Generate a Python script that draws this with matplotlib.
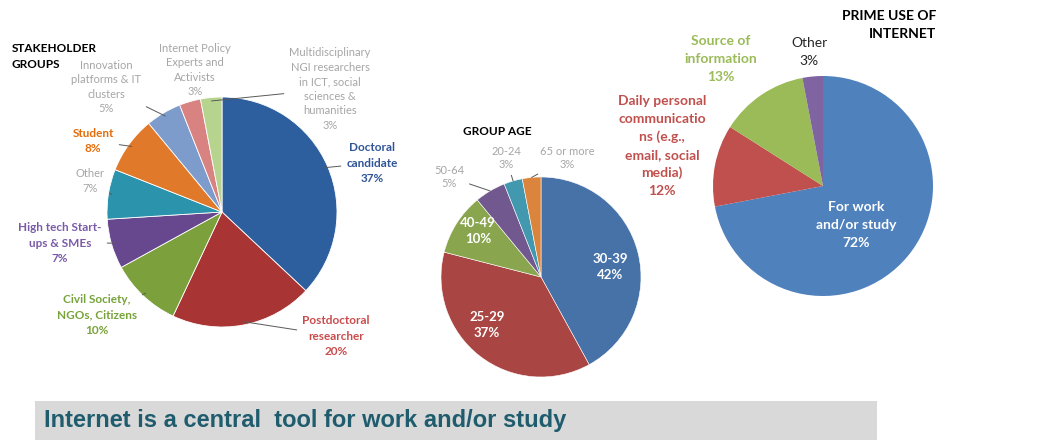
"""Three survey pie charts with a banner caption."""
import matplotlib
matplotlib.use("Agg")
import matplotlib.pyplot as plt
import numpy as np
from matplotlib.patches import Rectangle

W, H = 1051, 448

# --- data -------------------------------------------------------------
stake_labels = [
    "Doctoral\ncandidate",
    "Postdoctoral\nresearcher",
    "Civil Society,\nNGOs, Citizens",
    "High tech Start-\nups & SMEs",
    "Other",
    "Student",
    "Innovation\nplatforms & IT\nclusters",
    "Internet Policy\nExperts and\nActivists",
    "Multidisciplinary\nNGI researchers\nin ICT, social\nsciences &\nhumanities",
]
stake_values = [37, 20, 10, 7, 7, 8, 5, 3, 3]

age_labels = ["30-39", "25-29", "40-49", "50-64", "20-24", "65 or more"]
age_values = [42, 37, 10, 5, 3, 3]

use_labels = [
    "For work\nand/or study",
    "Daily personal\ncommunicatio\nns (e.g.,\nemail, social\nmedia)",
    "Source of\ninformation",
    "Other",
]
use_values = [72, 12, 13, 3]

banner_text = "Internet is a central  tool for work and/or study"

# --- styles -----------------------------------------------------------
stake_colors = ["#2D5F9F", "#A83434", "#7BA03C", "#67488F", "#2B93AC",
                "#E07A2A", "#7D9CCB", "#D98282", "#B7D48E"]
stake_text = ["#2F5597", "#C94C4C", "#77A33A", "#7A5BA8", "#A6A6A6",
              "#E46C0A", "#A6A6A6", "#A6A6A6", "#A6A6A6"]
stake_bold = [True, True, True, True, False, True, False, False, False]
# label centre (pixel coords) and whether a leader line is drawn
stake_pos = [(372, 163), (336, 336), (97, 315), (60, 243), (90, 181),
             (93, 141), (106, 87), (195, 70), (330, 89)]
stake_line = [True, True, True, True, True, True, True, False, True]

age_colors = ["#4672A8", "#A94543", "#89A54E", "#71588F", "#4198AF", "#DB843D"]
age_pos = [(610, 267), (487, 325), (478, 231), (449, 177), (506, 158), (567, 158)]
age_inside = [True, True, True, False, False, False]

use_colors = ["#4F81BD", "#C0504D", "#9BBB59", "#8064A2"]
use_text = ["white", "#C0504D", "#9BBB59", "#262626"]
use_bold = [True, True, True, False]
use_pos = [(856, 225), (662, 146), (721, 59), (809, 52)]

FONT = ["Lato", "DejaVu Sans"]
plt.rcParams["font.family"] = FONT


def px(x, y):
    return x, H - y


def mid_angles(values):
    v = np.asarray(values, dtype=float)
    frac = v / v.sum()
    cum = np.concatenate([[0], np.cumsum(frac)])
    return np.deg2rad(90 - 360 * (cum[:-1] + cum[1:]) / 2)


def draw_pie(ax, values, colors, center, radius, lw=0.6):
    c = px(*center)
    ax.pie(values, colors=colors, startangle=90, counterclock=False,
           center=c, radius=radius, frame=True,
           wedgeprops=dict(edgecolor="white", linewidth=lw))
    return c


def anchor(c, radius, ang, k=1.0):
    return c[0] + k * radius * np.cos(ang), c[1] + k * radius * np.sin(ang)


fig = plt.figure(figsize=(W / 100, H / 100), dpi=100)
ax = fig.add_axes([0, 0, 1, 1])

# --- stakeholder groups ----------------------------------------------
c1, r1 = draw_pie(ax, stake_values, stake_colors, (222, 212), 115), 115
ax.text(*px(12, 48), "STAKEHOLDER", fontsize=8.5, fontweight="bold",
        ha="left", va="center")
ax.text(*px(12, 64), "GROUPS", fontsize=8.5, fontweight="bold",
        ha="left", va="center")
for lab, val, ang, pos, col, bold, line in zip(
        stake_labels, stake_values, mid_angles(stake_values), stake_pos,
        stake_text, stake_bold, stake_line):
    txt = f"{lab}\n{val}%"
    kw = dict(fontsize=8.5 if bold else 8, color=col, ha="center", va="center",
              fontweight="bold" if bold else "normal",
              linespacing=1.45 if bold else 1.4)
    if line:
        ax.annotate(txt, xy=anchor(c1, r1, ang, 0.97), xytext=px(*pos),
                    arrowprops=dict(arrowstyle="-", color="#595959", lw=0.7,
                                    shrinkA=2, shrinkB=0), **kw)
    else:
        ax.text(*px(*pos), txt, **kw)

# --- group age --------------------------------------------------------
c2, r2 = draw_pie(ax, age_values, age_colors, (541, 277), 100, lw=0.4), 100
ax.text(*px(497, 131), "GROUP AGE", fontsize=8.5, fontweight="bold",
        ha="center", va="center")
for lab, val, ang, pos, inside in zip(age_labels, age_values,
                                      mid_angles(age_values), age_pos, age_inside):
    txt = f"{lab}\n{val}%"
    if inside:
        ax.text(*px(*pos), txt, fontsize=9.5, color="white", fontweight="bold",
                ha="center", va="center", linespacing=1.4)
    else:
        ax.annotate(txt, xy=anchor(c2, r2, ang, 1.0), xytext=px(*pos),
                    fontsize=8, color="#A6A6A6", ha="center", va="center",
                    linespacing=1.2,
                    arrowprops=dict(arrowstyle="-", color="#595959", lw=0.7,
                                    shrinkA=2, shrinkB=0))

# --- prime use of internet -------------------------------------------
c3 = draw_pie(ax, use_values, use_colors, (823, 186), 110, lw=0)
ax.text(*px(936, 25), "PRIME USE OF\nINTERNET", fontsize=10, fontweight="bold",
        ha="right", va="center", linespacing=1.6)
for lab, val, pos, col, bold in zip(use_labels, use_values, use_pos,
                                    use_text, use_bold):
    ax.text(*px(*pos), f"{lab}\n{val}%", fontsize=10, color=col,
            fontweight="bold" if bold else "normal", ha="center", va="center",
            linespacing=1.56)

# --- banner -----------------------------------------------------------
ax.add_patch(Rectangle(px(35, 440), 842, 39, facecolor="#D9D9D9",
                       edgecolor="none", zorder=0))
ax.text(*px(44, 420), banner_text, fontsize=17, fontweight="bold",
        color="#1F5C6E", ha="left", va="center",
        family=["Liberation Sans Narrow", "Liberation Sans"])

ax.set_xlim(0, W)
ax.set_ylim(0, H)
ax.set_aspect("equal")
ax.axis("off")
fig.savefig("out.png", dpi=100)
